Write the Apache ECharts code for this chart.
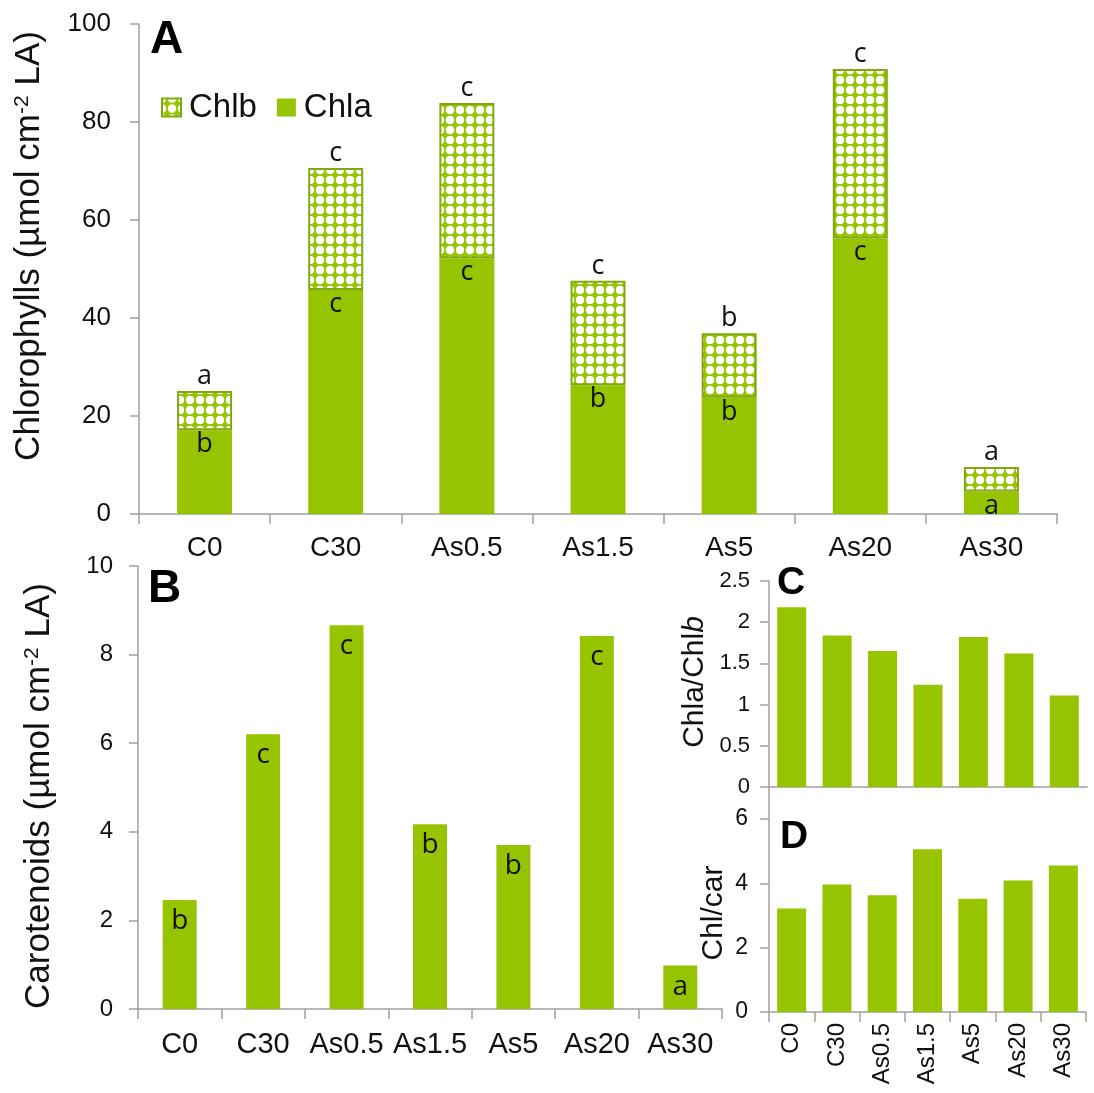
<!DOCTYPE html>
<html>
<head>
<meta charset="utf-8">
<script src="https://cdn.jsdelivr.net/npm/echarts@6/dist/echarts.min.js"></script>
<style>
  html, body { margin: 0; padding: 0; background: #fff; }
  #chart { width: 1094px; height: 1093px; }
</style>
</head>
<body>
<div id="chart"></div>
<script>
// données
const categories = ['C0', 'C30', 'As0.5', 'As1.5', 'As5', 'As20', 'As30'];
const chla = [17.1, 45.7, 52.2, 26.3, 23.7, 56.3, 4.6];
const chlb = [8.0, 24.9, 31.7, 21.3, 13.2, 34.5, 5.0];
const chlaLetters = ['b', 'c', 'c', 'b', 'b', 'c', 'a'];
const chlbLetters = ['a', 'c', 'c', 'c', 'b', 'c', 'a'];
const carotenoids = [2.46, 6.2, 8.66, 4.17, 3.7, 8.42, 0.98];
const carLetters = ['b', 'c', 'c', 'b', 'b', 'c', 'a'];
const ratioAB = [2.18, 1.84, 1.65, 1.24, 1.82, 1.62, 1.11];
const chlCar = [3.22, 3.97, 3.63, 5.06, 3.52, 4.09, 4.56];

const green = '#96c400';
const axisGrey = '#a0a0a0';
const sans = '"Liberation Sans", Arial, sans-serif';
const letterFont = '"Open Sans", sans-serif';

// motif du Chlb (losanges verts reliés, fond blanc)
function makePattern() {
    const c = document.createElement('canvas');
    c.width = 10;
    c.height = 10;
    const g = c.getContext('2d');
    g.fillStyle = '#fff';
    g.fillRect(0, 0, 10, 10);
    g.fillStyle = green;
    g.fillRect(0, 4.1, 10, 1.8);
    g.fillRect(4.1, 0, 1.8, 10);
    g.beginPath();
    g.moveTo(5, 1.0);
    g.lineTo(9.0, 5);
    g.lineTo(5, 9.0);
    g.lineTo(1.0, 5);
    g.closePath();
    g.fill();
    return c;
}

function axisLine() {
    return { show: true, lineStyle: { color: axisGrey, width: 1.5 } };
}

function catAxis(grid, labels, opts) {
    return Object.assign({
        type: 'category',
        gridIndex: grid,
        data: categories,
        axisLine: axisLine(),
        axisTick: { show: true, length: 10, lineStyle: { color: axisGrey, width: 1.5 } },
        axisLabel: labels,
        splitLine: { show: false }
    }, opts || {});
}

function valAxis(grid, min, max, interval, fontSize, margin, extra) {
    return Object.assign({
        type: 'value',
        gridIndex: grid,
        min: min,
        max: max,
        interval: interval,
        axisLine: axisLine(),
        axisTick: { show: true, length: 9, lineStyle: { color: axisGrey, width: 1.5 } },
        axisLabel: { fontSize: fontSize, fontFamily: sans, color: '#111', margin: margin },
        splitLine: { show: false }
    }, extra || {});
}

function letterLabel(letters, pos, dist, size) {
    return {
        show: true,
        position: pos,
        distance: dist,
        fontSize: size,
        fontFamily: letterFont,
        color: '#111',
        formatter: p => letters[p.dataIndex]
    };
}

function axisTitle(x, y, text, size) {
    return {
        type: 'text', x: x, y: y, rotation: Math.PI / 2,
        style: {
            text: text,
            font: size + 'px ' + sans, fill: '#111', align: 'center', verticalAlign: 'middle',
            rich: {
                sup: { fontSize: Math.round(size * 0.6), fontFamily: sans, fill: '#111', verticalAlign: 'top', padding: [0, 0, Math.round(size * 0.4), 0] },
                i: { fontSize: size, fontFamily: sans, fontStyle: 'italic', fill: '#111' }
            }
        }
    };
}

const chart = echarts.init(document.getElementById('chart'));
const pattern = { image: makePattern(), repeat: 'repeat' };

const option = {
    backgroundColor: '#fff',
    animation: false,
    grid: [
        { left: 139, top: 24, width: 918, height: 490 },
        { left: 138, top: 566, width: 584, height: 443 },
        { left: 769, top: 581, width: 318, height: 206 },
        { left: 769, top: 787, width: 317, height: 225 }
    ],
    legend: {
        left: 156,
        top: 86,
        itemWidth: 19,
        itemHeight: 18,
        itemGap: 20,
        icon: 'rect',
        data: ['Chlb', 'Chla'],
        textStyle: { fontSize: 33, fontFamily: sans, color: '#111', padding: [0, 0, 0, 3] }
    },
    xAxis: [
        catAxis(0, { fontSize: 28, fontFamily: sans, color: '#111', margin: 20 }),
        catAxis(1, { fontSize: 29, fontFamily: sans, color: '#111', margin: 21, interval: 0 }),
        catAxis(2, { show: false }, { axisTick: { show: false } }),
        catAxis(3, { fontSize: 24, fontFamily: sans, color: '#111', margin: 11, rotate: 90, interval: 0 })
    ],
    yAxis: [
        valAxis(0, 0, 100, 20, 26, 28),
        valAxis(1, 0, 10, 2, 24, 25),
        valAxis(2, 0, 2.5, 0.5, 22, 19),
        valAxis(3, 0, 7, 1, 23, 21, {
            axisTick: { show: true, length: 9, customValues: [0, 2, 4, 6], lineStyle: { color: axisGrey, width: 1.5 } },
            axisLabel: { fontSize: 23, fontFamily: sans, color: '#111', margin: 21, customValues: [0, 2, 4, 6] }
        })
    ],
    series: [
        {
            name: 'Chla',
            type: 'bar',
            stack: 'chl',
            xAxisIndex: 0,
            yAxisIndex: 0,
            barWidth: 55,
            data: chla,
            itemStyle: { color: green },
            label: letterLabel(chlaLetters, 'insideTop', 1, 27)
        },
        {
            name: 'Chlb',
            type: 'bar',
            stack: 'chl',
            xAxisIndex: 0,
            yAxisIndex: 0,
            barWidth: 55,
            data: chlb,
            itemStyle: { color: pattern, borderColor: '#7fa90e', borderWidth: 2 },
            label: letterLabel(chlbLetters, 'top', 1, 27)
        },
        {
            name: 'Carotenoids',
            type: 'bar',
            xAxisIndex: 1,
            yAxisIndex: 1,
            barWidth: 34,
            data: carotenoids,
            itemStyle: { color: green },
            label: letterLabel(carLetters, 'insideTop', 7, 28)
        },
        {
            name: 'Chla/Chlb',
            type: 'bar',
            xAxisIndex: 2,
            yAxisIndex: 2,
            barWidth: 29,
            data: ratioAB,
            itemStyle: { color: green }
        },
        {
            name: 'Chl/car',
            type: 'bar',
            xAxisIndex: 3,
            yAxisIndex: 3,
            barWidth: 29,
            data: chlCar,
            itemStyle: { color: green }
        }
    ],
    graphic: [
        // titres des axes
        axisTitle(29, 246, 'Chlorophylls (µmol cm{sup|-2} LA)', 35),
        axisTitle(39, 796, 'Carotenoids (µmol cm{sup|-2} LA)', 35),
        axisTitle(695, 682, 'Chla/Chl{i|b}', 30),
        axisTitle(714, 913, 'Chl/car', 30),
        // lettres des panneaux
        { type: 'text', x: 150, y: 40, style: { text: 'A', font: 'bold 46px ' + sans, fill: '#000', verticalAlign: 'middle' } },
        { type: 'text', x: 148, y: 589, style: { text: 'B', font: 'bold 46px ' + sans, fill: '#000', verticalAlign: 'middle' } },
        { type: 'text', x: 777, y: 583, style: { text: 'C', font: 'bold 39px ' + sans, fill: '#000', verticalAlign: 'middle' } },
        { type: 'text', x: 780, y: 837, style: { text: 'D', font: 'bold 39px ' + sans, fill: '#000', verticalAlign: 'middle' } }
    ]
};

chart.setOption(option);
</script>
</body>
</html>
